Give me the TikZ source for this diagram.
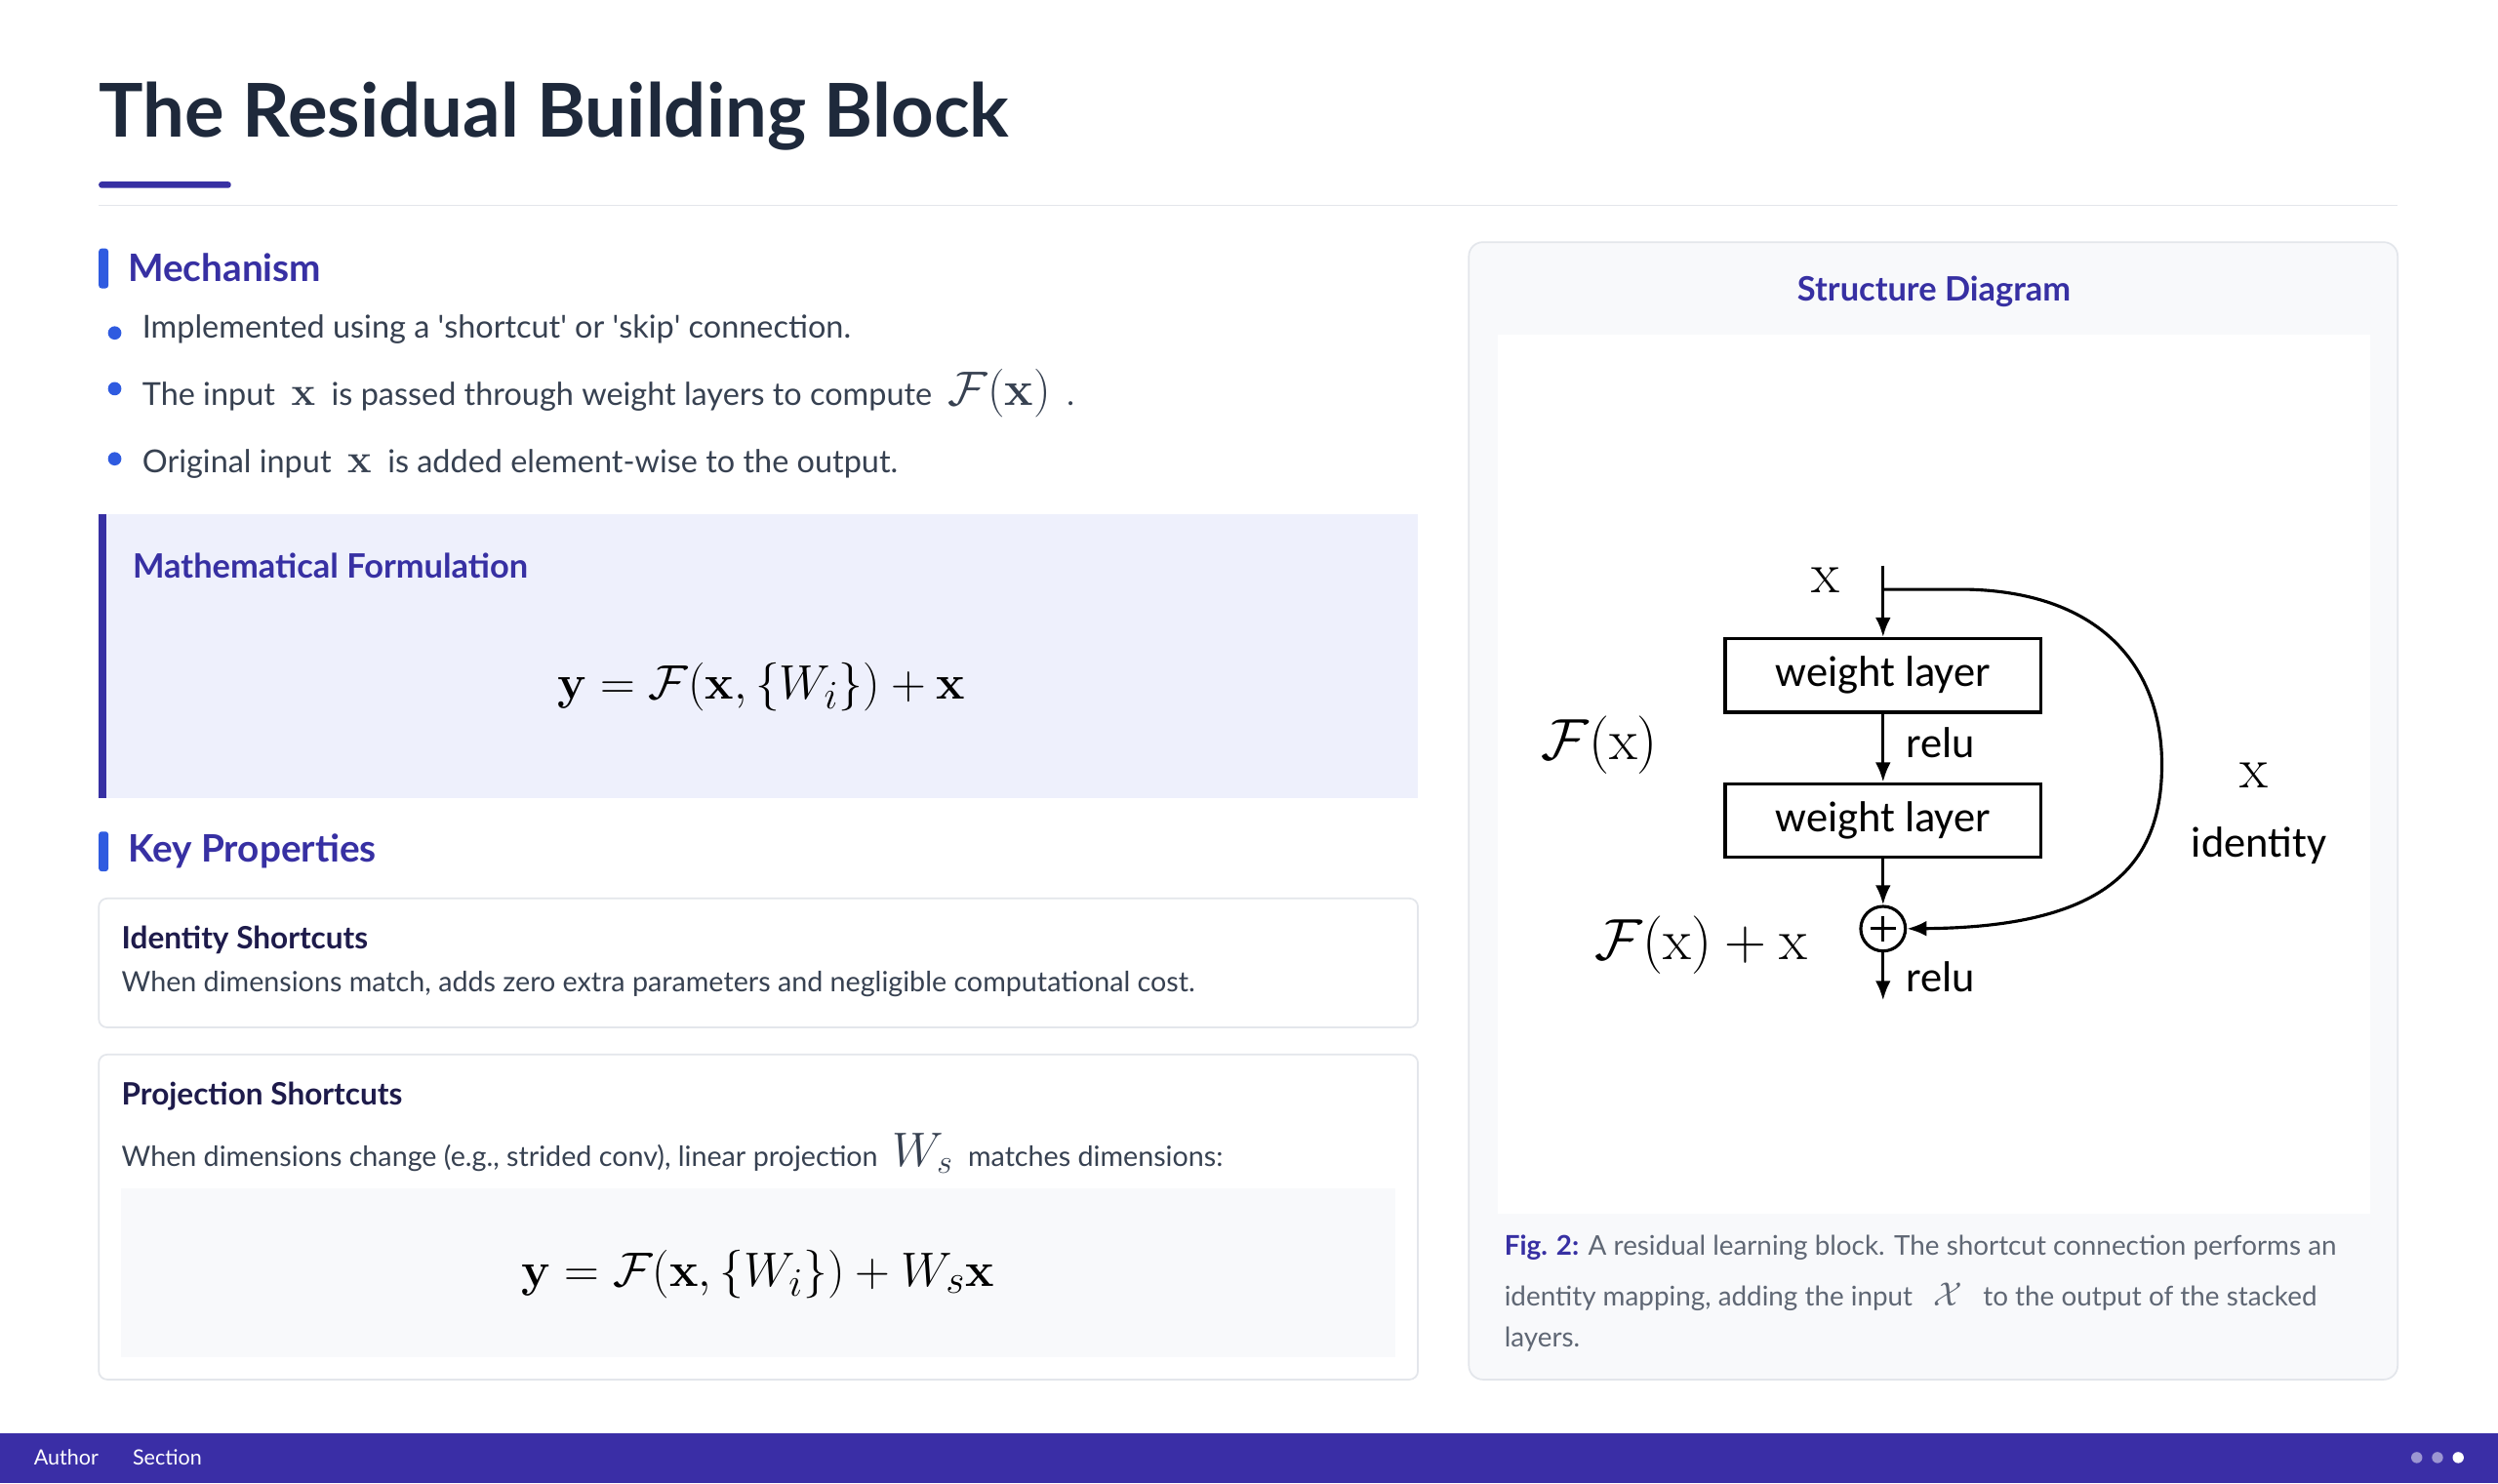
\documentclass[tikz,border=0pt]{standalone}
\usepackage{amsmath}
\usepackage[no-math]{fontspec}
\setmainfont{Lato}
\newfontfamily\carl{Carlito}
\usetikzlibrary{arrows.meta}
\definecolor{ttl}{HTML}{1E293B}
\definecolor{ind}{HTML}{3730A3}
\definecolor{blu}{HTML}{2F5BE0}
\definecolor{txt}{HTML}{374151}
\definecolor{lav}{HTML}{EEF0FC}
\definecolor{pan}{HTML}{F8F9FB}
\definecolor{brd}{HTML}{E3E6EB}
\definecolor{foot}{HTML}{3A2EA6}
\definecolor{ctl}{HTML}{1E1B4B}
\newcommand{\sq}{\textquotesingle}
\begin{document}
\begin{tikzpicture}[x=0.02cm,y=-0.02cm,
  body/.style={anchor=west,text=txt,font=\fontsize{11.3}{13}\selectfont,inner sep=0},
  hdr/.style={anchor=west,text=ind,font=\fontsize{13.5}{15}\selectfont\bfseries,inner sep=0},
  card/.style={draw=brd,fill=white,rounded corners=3pt,line width=0.6pt},
  wl/.style={draw,line width=1.2pt,minimum width=198*0.02cm,minimum height=46*0.02cm,font=\carl\fontsize{15.5}{17}\selectfont},
  arr/.style={-{Latex[length=7pt,width=5.5pt]},line width=1.1pt},
  dl/.style={font=\carl\fontsize{15.5}{17}\selectfont,inner sep=0},
  dm/.style={font=\fontsize{21}{23}\selectfont,inner sep=0}]
\useasboundingbox (0,0) rectangle (1568,931);
\fill[white] (0,0) rectangle (1568,931);
% title
\node[anchor=base west,inner sep=0,text=ttl,font=\fontsize{26.5}{30}\selectfont\bfseries] (title) at (62,86) {The Residual Building Block};
\fill[ind,rounded corners=1pt] (62,114) rectangle (145,118);
\draw[brd,line width=0.6pt] (62,129) -- (1505,129);
% mechanism
\fill[blu,rounded corners=1pt] (62,156) rectangle (68,181);
\node[hdr] (mech) at (80,168) {Mechanism};
\foreach \y/\n in {209/b1,244/b2,288/b3} \fill[blu] (72,\y) circle (4.2);
\node[body] (t1) at (89,207) {Implemented using a \sq shortcut\sq{} or \sq skip\sq{} connection.};
\node[body] (t2) at (89,247) {The input \ {\fontsize{15}{17}\selectfont$\mathbf{x}$} \ is passed through weight layers to compute \ {\fontsize{18}{20}\selectfont$\mathcal{F}(\mathbf{x})$} \ .};
\node[body] (t3) at (89,291) {Original input \ {\fontsize{15}{17}\selectfont$\mathbf{x}$} \ is added element-wise to the output.};
% math box
\fill[lav] (62,323) rectangle (890,501);
\fill[ind] (62,323) rectangle (67,501);
\node[anchor=west,inner sep=0,text=ind,font=\fontsize{12}{13}\selectfont\bfseries] (mf) at (83,355) {Mathematical Formulation};
\node[inner sep=0,font=\fontsize{19}{21}\selectfont] (eq1) at (478,431) {$\mathbf{y}=\mathcal{F}(\mathbf{x},\{W_i\})+\mathbf{x}$};
% key properties
\fill[blu,rounded corners=1pt] (62,522) rectangle (68,547);
\node[hdr] (kp) at (80,534) {Key Properties};
\draw[card] (62,564) rectangle (890,645);
\node[anchor=west,inner sep=0,text=ctl,font=\fontsize{11}{12}\selectfont\bfseries] (c1t) at (76,590) {Identity Shortcuts};
\node[body,font=\fontsize{10}{11}\selectfont] (c1b) at (76,618) {When dimensions match, adds zero extra parameters and negligible computational cost.};
\draw[card] (62,662) rectangle (890,866);
\node[anchor=west,inner sep=0,text=ctl,font=\fontsize{11}{12}\selectfont\bfseries] (c2t) at (76,688) {Projection Shortcuts};
\node[body,font=\fontsize{10}{11}\selectfont] (c2b) at (76,724) {When dimensions change (e.g., strided conv), linear projection \ {\fontsize{17}{19}\selectfont$W_s$} \ matches dimensions:};
\fill[pan] (76,746) rectangle (876,852);
\node[inner sep=0,font=\fontsize{19}{21}\selectfont] (eq2) at (476,800) {$\mathbf{y}=\mathcal{F}(\mathbf{x},\{W_i\})+W_s\mathbf{x}$};
% right panel
\draw[card,fill=pan,rounded corners=5pt] (922,152) rectangle (1505,866);
\node[inner sep=0,text=ind,font=\fontsize{12}{13}\selectfont\bfseries] (sd) at (1214,183) {Structure Diagram};
\fill[white] (940,210) rectangle (1488,762);
% diagram
\coordinate (top) at (1182,355);
\coordinate (br) at (1182,370);
\node[wl] (w1) at (1182,424) {weight layer};
\node[wl] (w2) at (1182,515) {weight layer};
\node[draw,circle,line width=1.1pt,minimum size=28*0.02cm,inner sep=0] (plus) at (1182,583) {};
\draw[line width=1.1pt] (1182,575) -- (1182,591) (1174,583) -- (1190,583);
\coordinate (out) at (1182,628);
\draw[arr] (top) -- (w1.north);
\draw[arr] (w1.south) -- (w2.north);
\draw[arr] (w2.south) -- (plus.north);
\draw[arr] (plus.south) -- (out);
\draw[arr] (br) -- (1235,370) .. controls (1320,372) and (1357,420) .. (1357,480) .. controls (1357,545) and (1320,582) .. (plus.east);
\node[dm] (lx) at (1146,364) {$\mathrm{x}$};
\node[dl,anchor=west] (r1) at (1196,466) {relu};
\node[dl,anchor=west] (r2) at (1196,613) {relu};
\node[dm] (lf) at (1004,468) {$\mathcal{F}(\mathrm{x})$};
\node[dm] (lfx) at (1068,593) {$\mathcal{F}(\mathrm{x})+\mathrm{x}$};
\node[dm] (lx2) at (1415,487) {$\mathrm{x}$};
\node[dl] (lid) at (1418,531) {identity};
% caption
\node[anchor=west,inner sep=0,text=txt!80,font=\fontsize{9.7}{11}\selectfont] (cap1) at (944,783) {{\color{ind}\bfseries Fig. 2:} A residual learning block. The shortcut connection performs an};
\node[anchor=west,inner sep=0,text=txt!80,font=\fontsize{9.7}{11}\selectfont] (cap2) at (944,814) {identity mapping, adding the input \ \ {\fontsize{12}{14}\selectfont$\mathcal{X}$} \ \ to the output of the stacked};
\node[anchor=west,inner sep=0,text=txt!80,font=\fontsize{9.7}{11}\selectfont] (cap3) at (944,841) {layers.};
% footer
\fill[foot] (0,900) rectangle (1568,931);
\node[anchor=west,inner sep=0,text=white,font=\fontsize{7.5}{9}\selectfont] (au) at (21,915) {Author};
\node[anchor=west,inner sep=0,text=white,font=\fontsize{7.5}{9}\selectfont] (se) at (83,915) {Section};
\fill[white,opacity=0.5] (1517,915) circle (3.5) (1530,915) circle (3.5);
\fill[white] (1543,915) circle (3.5);
\end{tikzpicture}
\end{document}
